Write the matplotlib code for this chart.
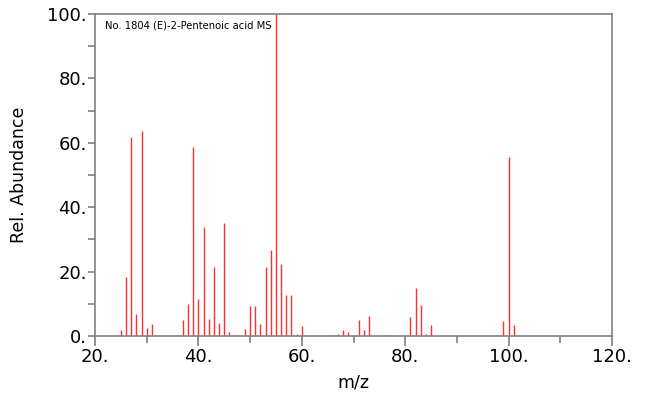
import matplotlib
matplotlib.use("Agg")
import matplotlib.pyplot as plt
from matplotlib.ticker import MultipleLocator

mz = [25, 26, 27, 28, 29, 30, 31, 36, 37, 38, 39, 40, 41, 42, 43, 44, 45, 46, 47,
      49, 50, 51, 52, 53, 54, 55, 56, 57, 58, 59, 60, 66, 67, 68, 69, 71, 72, 73,
      74, 77, 81, 82, 83, 84, 85, 99, 100, 101]
intensity = [1.9, 18.3, 61.9, 6.7, 63.7, 2.4, 3.8, 0.3, 5.0, 10.0, 58.8, 11.5, 33.9,
             5.3, 21.4, 4.1, 35.0, 1.1, 0.3, 2.1, 9.2, 9.2, 3.6, 21.5, 26.6, 100.0,
             22.3, 12.7, 12.7, 0.6, 3.1, 0.3, 0.6, 1.9, 1.1, 4.9, 1.9, 6.1, 0.2, 0.2,
             5.8, 14.9, 9.7, 0.6, 3.3, 4.7, 55.6, 3.4]
title = "No. 1804 (E)-2-Pentenoic acid MS"
xticks = [20, 40, 60, 80, 100, 120]
yticks = [0, 20, 40, 60, 80, 100]

fig = plt.figure(figsize=(6.5, 3.99), dpi=100)
ax = fig.add_axes([95/650, 1-336/399, (612-95)/650, (336-14)/399])

ax.vlines(mz, 0, intensity, color="#ff3030", linewidth=1.0)

ax.set_xlim(20, 120)
ax.set_ylim(0, 100)
ax.set_xticks(xticks)
ax.set_xticklabels([f"{t}." for t in xticks])
ax.set_yticks(yticks)
ax.set_yticklabels([f"{t}." for t in yticks])
ax.xaxis.set_minor_locator(MultipleLocator(10))
ax.yaxis.set_minor_locator(MultipleLocator(10))

gray = "#808080"
for s in ax.spines.values():
    s.set_color(gray)
    s.set_linewidth(1.2)
ax.tick_params(which="major", axis="x", direction="out", length=7, width=1.2, color=gray,
               labelsize=13, pad=2)
ax.tick_params(which="minor", axis="x", direction="out", length=5, width=1.2, color=gray)
ax.tick_params(which="both", axis="y", direction="out", length=5, width=1.2, color=gray,
               labelsize=13, pad=1)
ax.tick_params(top=False, right=False)

ax.set_xlabel("m/z", fontsize=12.5, labelpad=5)
ax.set_ylabel("Rel. Abundance", fontsize=12.5, labelpad=14)

ax.text(0.02, 0.98, title, transform=ax.transAxes, fontsize=7.2, va="top", ha="left")

fig.savefig("out.png", dpi=100)
